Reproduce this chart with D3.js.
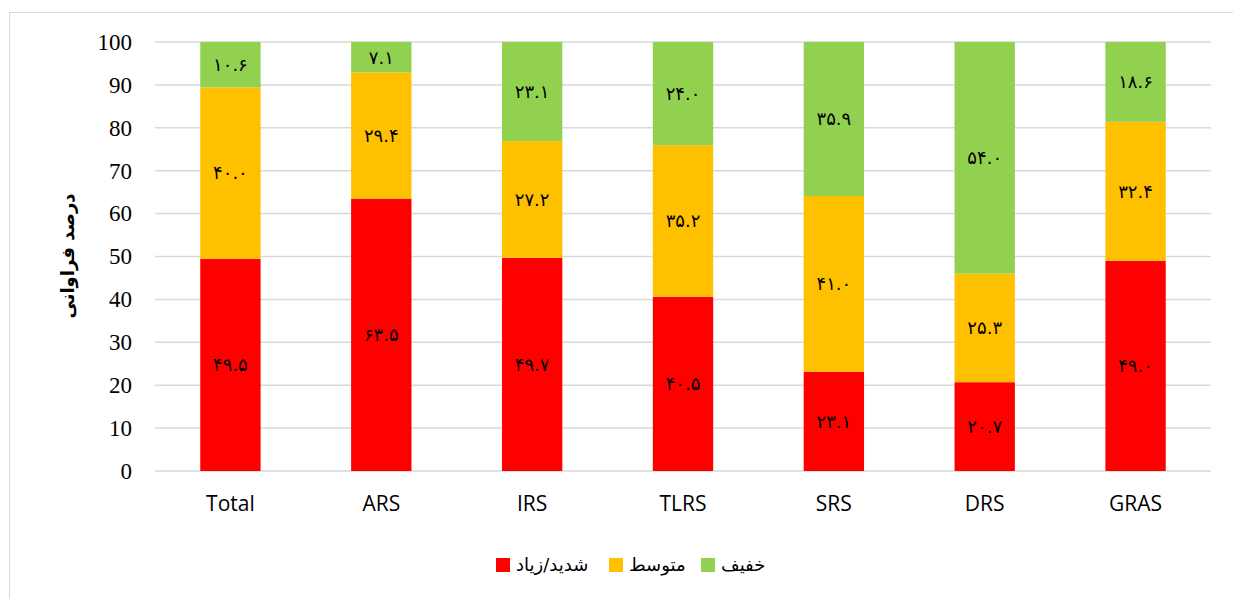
<!DOCTYPE html>
<html>
<head>
<meta charset="utf-8">
<script src="https://cdn.jsdelivr.net/npm/d3@7"></script>
<style>
  body { margin: 0; background: #fff; }
  svg { display: block; }
</style>
</head>
<body>
<svg id="chart"></svg>
<script>
// data
const CATEGORIES = ["Total", "ARS", "IRS", "TLRS", "SRS", "DRS", "GRAS"];
const SEVERE = [49.5, 63.5, 49.7, 40.5, 23.1, 20.7, 49.0];
const MODERATE = [40.0, 29.4, 27.2, 35.2, 41.0, 25.3, 32.4];
const MILD = [10.6, 7.1, 23.1, 24.0, 35.9, 54.0, 18.6];
const SERIES_NAMES = ["شدید/زیاد", "متوسط", "خفیف"];
const Y_TICKS = [0, 10, 20, 30, 40, 50, 60, 70, 80, 90, 100];

const COLORS = ["#ff0000", "#ffc000", "#92d050"];
const WIDTH = 1233, HEIGHT = 599;
const PLOT = { left: 155, right: 1211, top: 42, bottom: 471 };

const svg = d3.select('#chart').attr('width', WIDTH).attr('height', HEIGHT);

// outer border
svg.append('rect')
  .attr('x', 9.5).attr('y', 12.5)
  .attr('width', 1240).attr('height', 600)
  .attr('fill', 'none').attr('stroke', '#d9d9d9');

const xScale = d3.scaleBand().domain(CATEGORIES).range([PLOT.left, PLOT.right]).paddingInner(0.6).paddingOuter(0.3);
const yScale = d3.scaleLinear().domain([0, 100]).range([PLOT.bottom, PLOT.top]);

// gridlines
svg.append('g')
  .selectAll('line')
  .data(Y_TICKS)
  .enter()
  .append('line')
  .attr('x1', PLOT.left).attr('x2', PLOT.right)
  .attr('y1', d => yScale(d)).attr('y2', d => yScale(d))
  .attr('stroke', '#d9d9d9').attr('stroke-width', 1.5);

// 100% stack (like excel percent stacked)
const rows = CATEGORIES.map((c, i) => ({ cat: c, s0: SEVERE[i], s1: MODERATE[i], s2: MILD[i] }));
const stacked = d3.stack().keys(['s0', 's1', 's2']).offset(d3.stackOffsetExpand)(rows);

const toFa = v => v.toFixed(1).replace(/[0-9]/g, d => '۰۱۲۳۴۵۶۷۸۹'[+d]);

const layers = svg.append('g').selectAll('g')
  .data(stacked)
  .enter()
  .append('g')
  .attr('fill', (d, i) => COLORS[i]);

layers.selectAll('rect')
  .data(d => d)
  .enter()
  .append('rect')
  .attr('x', d => xScale(d.data.cat))
  .attr('width', xScale.bandwidth())
  .attr('y', d => yScale(d[1] * 100))
  .attr('height', d => yScale(d[0] * 100) - yScale(d[1] * 100));

layers.selectAll('text')
  .data(d => d.map(p => ({ p: p, key: d.key })))
  .enter()
  .append('text')
  .attr('x', d => xScale(d.p.data.cat) + xScale.bandwidth() / 2)
  .attr('y', d => yScale((d.p[0] + d.p[1]) * 50))
  .attr('dy', '0.35em')
  .attr('text-anchor', 'middle')
  .attr('fill', '#000')
  .attr('font-family', 'DejaVu Sans')
  .attr('font-size', '18px')
  .text(d => toFa(d.p.data[d.key]));

// y axis labels
const yAxis = svg.append('g')
  .attr('transform', `translate(${PLOT.left - 23},0)`)
  .call(d3.axisLeft(yScale).tickValues(Y_TICKS).tickSize(0).tickPadding(0));
yAxis.select('.domain').remove();
yAxis.selectAll('text')
  .attr('font-family', 'Liberation Serif')
  .attr('font-size', '23px')
  .attr('fill', '#000');

// x axis labels
const xAxis = svg.append('g')
  .attr('transform', `translate(0,${PLOT.bottom})`)
  .call(d3.axisBottom(xScale).tickSize(0).tickPadding(25));
xAxis.select('.domain').remove();
xAxis.selectAll('text')
  .attr('font-family', 'Open Sans')
  .attr('font-size', '21px')
  .attr('fill', '#000');

// y title
svg.append('text')
  .attr('transform', 'translate(68,256) rotate(-90)')
  .attr('text-anchor', 'middle')
  .attr('dy', '0.35em')
  .attr('font-family', 'DejaVu Sans')
  .attr('font-weight', 'bold')
  .attr('font-size', '18px')
  .text('درصد فراوانی');

// legend
const LEGEND_X = [496, 609, 701];
const legend = svg.append('g').selectAll('g')
  .data(SERIES_NAMES)
  .enter()
  .append('g')
  .attr('transform', (d, i) => `translate(${LEGEND_X[i]},565)`);
legend.append('rect')
  .attr('x', 0).attr('y', -7)
  .attr('width', 14).attr('height', 14)
  .attr('fill', (d, i) => COLORS[i]);
legend.append('text')
  .attr('x', 20)
  .attr('dy', '0.35em')
  .attr('font-family', 'DejaVu Sans')
  .attr('font-size', '18px')
  .attr('fill', '#000')
  .text(d => d);
</script>
</body>
</html>
